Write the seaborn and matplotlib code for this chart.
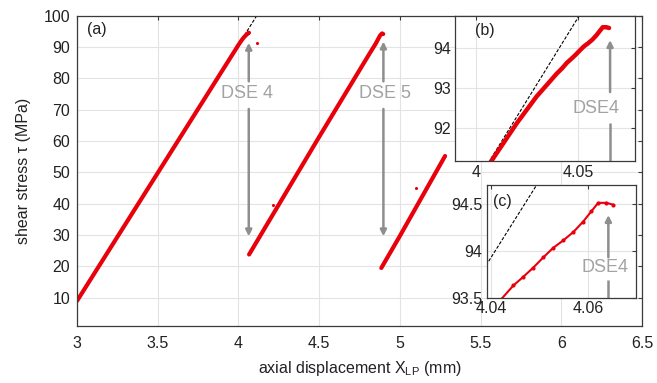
#!/usr/bin/env python3
# -*- coding: utf-8 -*-

import matplotlib
matplotlib.use("Agg")
import matplotlib.pyplot as plt
import seaborn as sns

# ---------------------------------------------------------------------------
# Data
# ---------------------------------------------------------------------------
# loading branch 1 (ends with DSE 4)
seg1_x = [3.000, 3.500, 4.000, 4.0077, 4.0199, 4.0297, 4.0396, 4.0422, 4.0446,
          4.0466, 4.0487, 4.0508, 4.0528, 4.0549, 4.0570, 4.0590, 4.0607,
          4.0621, 4.0638, 4.0652]
seg1_y = [9.0, 49.8, 90.6, 91.20, 92.12, 92.79, 93.36, 93.49, 93.63,
          93.72, 93.82, 93.93, 94.03, 94.11, 94.20, 94.31, 94.42,
          94.51, 94.51, 94.49]

# loading branch 2 (ends with DSE 5)
seg2_x = [4.066, 4.500, 4.815, 4.850, 4.877, 4.890, 4.897]
seg2_y = [23.8, 61.3, 88.1, 91.0, 93.6, 94.3, 94.1]

# loading branch 3 (visible part)
seg3_x = [4.885, 5.000, 5.280]
seg3_y = [19.5, 29.7, 55.2]

# isolated points
dots_x = [4.117, 4.216, 5.100]
dots_y = [91.1, 39.7, 45.0]

# linear fit (dashed)
fit_x = [3.000, 4.114]
fit_y = [8.6, 100.0]

# DSE markers: x, top, bottom of the arrows
dse_labels = ["DSE 4", "DSE 5"]
dse_x = [4.064, 4.898]
dse_text_x = [4.055, 4.908]
dse_top = [91.3, 91.7]
dse_bottom = [29.6, 29.6]

RED = "#e8000b"
GREY = "#8e8e8e"
TXT_GREY = "#a2a2a2"

sns.set_style("whitegrid")
plt.rcParams["font.family"] = ["Liberation Sans", "DejaVu Sans"]
plt.rcParams["mathtext.fontset"] = "custom"
plt.rcParams["mathtext.rm"] = "Liberation Sans"


def style_axes(ax, fs=11.5, pad=3):
    ax.grid(True, color="#e3e3e3", lw=0.8)
    ax.set_axisbelow(True)
    for sp in ax.spines.values():
        sp.set_color("#3a3a3a")
        sp.set_linewidth(0.9)
        sp.set_visible(True)
    ax.tick_params(direction="in", length=3, width=0.8, color="#3a3a3a",
                   top=True, right=True, labelsize=fs, pad=pad,
                   labelcolor="#222222")


def up_arrow(ax, x, y0, y1, lw=1.8):
    ax.annotate("", xy=(x, y1), xytext=(x, y0),
                arrowprops=dict(arrowstyle="-|>", color=GREY, lw=lw,
                                mutation_scale=9, shrinkA=0, shrinkB=0))


def shaft(ax, x, y0, y1, lw=1.8):
    ax.plot([x, x], [y0, y1], color=GREY, lw=lw, solid_capstyle="butt")


fig = plt.figure(figsize=(6.57, 3.83), dpi=100)

# ---------------------------------------------------------------------------
# (a) main axes
# ---------------------------------------------------------------------------
ax = fig.add_axes([0.1172, 0.1488, 0.8600, 0.8107])
style_axes(ax)
ax.tick_params(axis="x", pad=7)
ax.tick_params(axis="y", pad=5)
sns.lineplot(x=fit_x, y=fit_y, ax=ax, color="black", lw=0.8,
             linestyle=(0, (3, 1.5)), sort=False, estimator=None)
for sx, sy in [(seg1_x, seg1_y), (seg2_x, seg2_y), (seg3_x, seg3_y)]:
    sns.lineplot(x=sx, y=sy, ax=ax, color=RED, lw=3.0, sort=False,
                 estimator=None)
sns.scatterplot(x=dots_x, y=dots_y, ax=ax, color=RED, s=5, linewidth=0)

for lab, xa, xt, yt, yb in zip(dse_labels, dse_x, dse_text_x, dse_top, dse_bottom):
    up_arrow(ax, xa, 79.0, yt)
    up_arrow(ax, xa, 70.2, yb)
    ax.text(xt, 75.0, lab, color=TXT_GREY, fontsize=13, ha="center", va="center")

ax.set_xlim(3, 6.5)
ax.set_ylim(1, 100)
ax.set_xticks([3, 3.5, 4, 4.5, 5, 5.5, 6, 6.5])
ax.set_xticklabels(["3", "3.5", "4", "4.5", "5", "5.5", "6", "6.5"])
ax.set_yticks(range(10, 101, 10))
ax.set_xlabel(r"axial displacement X$_{\mathregular{LP}}$ (mm)", fontsize=11.5,
              labelpad=6, color="#222222")
ax.set_ylabel("shear stress τ (MPa)", fontsize=11.5, labelpad=9, color="#222222")
ax.text(0.018, 0.955, "(a)", transform=ax.transAxes, fontsize=11.5,
        ha="left", va="center", color="#222222")

# ---------------------------------------------------------------------------
# (b) inset
# ---------------------------------------------------------------------------
axb = fig.add_axes([0.6925, 0.5804, 0.2740, 0.3791])
axb.set_facecolor("white")
style_axes(axb)
sns.lineplot(x=fit_x, y=fit_y, ax=axb, color="black", lw=0.8,
             linestyle=(0, (3, 1.5)), sort=False, estimator=None)
sns.lineplot(x=seg1_x, y=seg1_y, ax=axb, color=RED, lw=3.2, sort=False,
             estimator=None)
axb.set_xlim(3.9897, 4.0779)
axb.set_ylim(91.196, 94.80)
axb.set_xticks([4.0, 4.05])
axb.set_xticklabels(["4", "4.05"])
axb.set_yticks([92, 93, 94])
axb.set_yticklabels(["92", "93", "94"])
up_arrow(axb, 4.0657, 92.9, 94.19)
shaft(axb, 4.0657, 91.196, 92.12)
axb.text(4.0590, 92.5, "DSE4", color=TXT_GREY, fontsize=13, ha="center",
         va="center")
axb.text(0.11, 0.90, "(b)", transform=axb.transAxes, fontsize=11.5,
         ha="left", va="center", color="#222222")
axb.set_xlabel("")
axb.set_ylabel("")

# ---------------------------------------------------------------------------
# (c) inset
# ---------------------------------------------------------------------------
axc = fig.add_axes([0.7408, 0.2227, 0.2272, 0.2943])
axc.set_facecolor("white")
style_axes(axc)
sns.lineplot(x=fit_x, y=fit_y, ax=axc, color="black", lw=0.8,
             linestyle=(0, (3, 1.5)), sort=False, estimator=None)
sns.lineplot(x=seg1_x, y=seg1_y, ax=axc, color=RED, lw=1.5, sort=False,
             estimator=None, marker="o", markersize=3.0,
             markeredgewidth=0, markerfacecolor=RED)
axc.set_xlim(4.0391, 4.0699)
axc.set_ylim(93.5, 94.70)
axc.set_xticks([4.04, 4.06])
axc.set_xticklabels(["4.04", "4.06"])
axc.set_yticks([93.5, 94, 94.5])
axc.set_yticklabels(["93.5", "94", "94.5"])
axc.tick_params(axis="x", pad=2.5)
up_arrow(axc, 4.0642, 93.93, 94.38)
shaft(axc, 4.0642, 93.5, 93.69)
axc.text(4.0635, 93.82, "DSE4", color=TXT_GREY, fontsize=13, ha="center",
         va="center")
axc.text(0.04, 0.85, "(c)", transform=axc.transAxes, fontsize=11.5,
         ha="left", va="center", color="#222222")
axc.set_xlabel("")
axc.set_ylabel("")

fig.savefig("out.png", dpi=100)
plt.close(fig)
